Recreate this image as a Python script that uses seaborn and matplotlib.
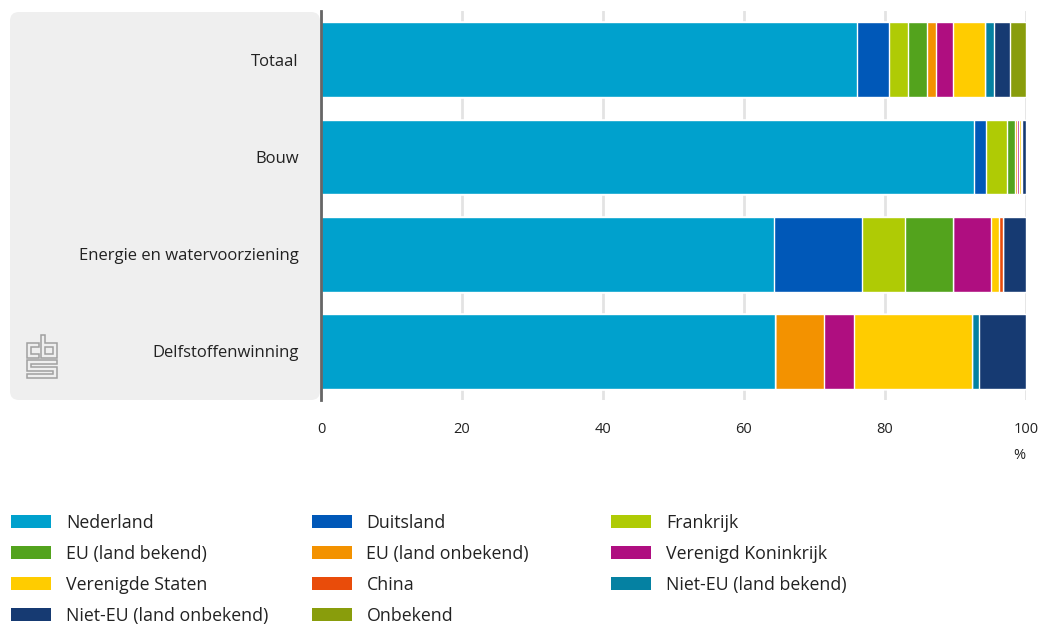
import numpy as np
import pandas as pd
import matplotlib
matplotlib.use('Agg')
import matplotlib.pyplot as plt
import seaborn as sns
from matplotlib.patches import FancyBboxPatch, Patch, Polygon

# data (percent share by origin)
sectors = ['Totaal', 'Bouw', 'Energie en watervoorziening', 'Delfstoffenwinning']
origins = ['Nederland', 'Duitsland', 'Frankrijk', 'EU (land bekend)', 'EU (land onbekend)',
           'Verenigd Koninkrijk', 'Verenigde Staten', 'China', 'Niet-EU (land bekend)',
           'Niet-EU (land onbekend)', 'Onbekend']
nederland = [76.0, 92.6, 64.2, 64.4]
duitsland = [4.5, 1.8, 12.6, 0.0]
frankrijk = [2.7, 2.9, 6.1, 0.0]
eu_bekend = [2.7, 1.1, 6.8, 0.0]
eu_onbekend = [1.3, 0.3, 0.0, 6.9]
vk = [2.4, 0.3, 5.3, 4.3]
vs = [4.6, 0.3, 1.2, 16.8]
china = [0.0, 0.0, 0.6, 0.0]
niet_eu_bekend = [1.3, 0.1, 0.0, 0.9]
niet_eu_onbekend = [2.3, 0.6, 3.2, 6.7]
onbekend = [2.2, 0.0, 0.0, 0.0]

colors = ['#00a1cd', '#0058b8', '#afcb05', '#53a31d', '#f39200', '#af0e80',
          '#ffcc00', '#e94c0a', '#0581a2', '#163a72', '#899d0c']

df = pd.DataFrame(dict(zip(origins, [nederland, duitsland, frankrijk, eu_bekend, eu_onbekend,
                                     vk, vs, china, niet_eu_bekend, niet_eu_onbekend, onbekend])),
                  index=sectors)
cum = df.cumsum(axis=1)

sns.set_theme(style='white')
plt.rcParams['font.family'] = ['Open Sans', 'DejaVu Sans']
plt.rcParams['text.color'] = '#222222'

fig = plt.figure(figsize=(10.4, 6.26), dpi=100)

# grey label panel
panel = FancyBboxPatch((0.10, 2.26), 3.10, 3.88, boxstyle='round,pad=0,rounding_size=0.09',
                       transform=fig.dpi_scale_trans, facecolor='#efefef', edgecolor='none',
                       zorder=-5)
fig.patches.append(panel)

# small cbs logo outline in the panel (pixel coords -> figure fraction)
def px(pts):
    return [(x / 1040, 1 - y / 626) for x, y in pts]

logo_shapes = [
    [(39, 343), (27, 343), (27, 358), (39, 358), (39, 354), (31, 354), (31, 347), (39, 347)],
    [(41, 335), (45, 335), (45, 343), (57, 343), (57, 358), (41, 358)],
    [(45, 347), (53, 347), (53, 354), (45, 354)],
    [(27, 360), (57, 360), (57, 364), (31, 364), (31, 367), (57, 367), (57, 378),
     (27, 378), (27, 374), (53, 374), (53, 371), (27, 371)],
]
for shp in logo_shapes:
    fig.patches.append(Polygon(px(shp), closed=True, fill=False, edgecolor='#a0a0a0',
                               linewidth=1.1, transform=fig.transFigure, zorder=-4))

ax = fig.add_axes([0.3087, 0.361, 0.6778, 0.621])
ax.set_facecolor('none')

# stacked bars: overlay cumulative totals, widest first
for i in range(len(origins) - 1, -1, -1):
    sns.barplot(x=cum.iloc[:, i].values, y=sectors, orient='h', color=colors[i],
                width=0.77, edgecolor='white', linewidth=1, saturation=1, ax=ax, zorder=3)

ax.set_xlim(0, 100)
ax.set_ylim(3.5, -0.5)
ax.set_yticks(range(len(sectors)))
ax.set_yticklabels(sectors)
ax.set_xticks([0, 20, 40, 60, 80, 100])
ax.xaxis.grid(True, color='#e3e3e3', linewidth=2)
ax.set_axisbelow(True)
for s in ['top', 'right', 'bottom']:
    ax.spines[s].set_visible(False)
ax.spines['left'].set_color('#666666')
ax.spines['left'].set_linewidth(2)
ax.spines['left'].set_zorder(5)
ax.tick_params(axis='both', length=0, colors='#222222')
ax.tick_params(axis='y', pad=16, labelleft=True, labelsize=12)
ax.tick_params(axis='x', pad=16, labelsize=10.5)
ax.set_xlabel('')
ax.set_ylabel('')
fig.text(0.980, 0.273, '%', fontsize=10.5, ha='center', va='center')

# legend in three fixed columns
handles = [Patch(facecolor=c, edgecolor='none') for c in colors]
col_items = [[0, 3, 6, 9], [1, 4, 7, 10], [2, 5, 8]]
col_x = [0.004, 0.293, 0.581]
for xi, items in zip(col_x, col_items):
    fig.legend([handles[k] for k in items], [origins[k] for k in items],
               loc='upper left', bbox_to_anchor=(xi, 0.190), frameon=False,
               fontsize=12.8, handlelength=2.25, handleheight=0.75, handletextpad=0.82,
               labelspacing=0.72, borderaxespad=0)

fig.savefig('out.png', dpi=100)
